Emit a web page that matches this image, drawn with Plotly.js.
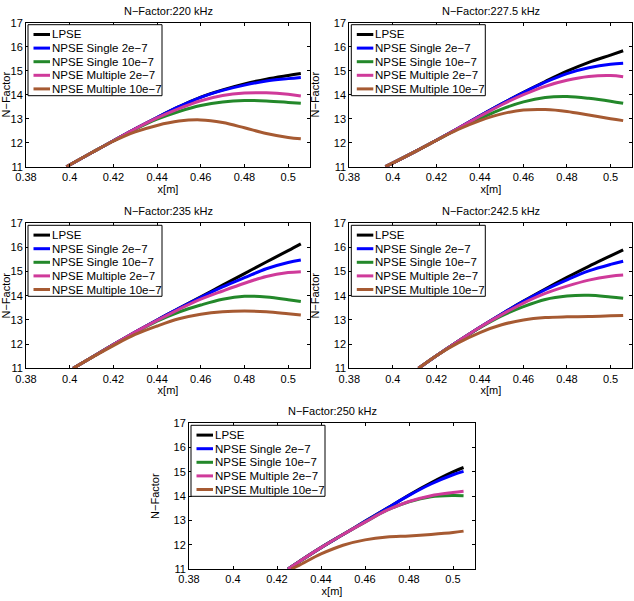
<!DOCTYPE html>
<html><head><meta charset="utf-8">
<script src="https://cdn.plot.ly/plotly-3.0.1.min.js"></script>
<style>html,body{margin:0;padding:0;background:#fff;} #chart{width:634px;height:601px;}</style>
</head><body><div id="chart"></div>
<script>
// ---------- data ----------
const frequencies = ['220', '227.5', '235', '242.5', '250'];
const seriesNames = ['LPSE', 'NPSE Single 2e\u22127', 'NPSE Single 10e\u22127', 'NPSE Multiple 2e\u22127', 'NPSE Multiple 10e\u22127'];
const xTickVals = [0.38, 0.4, 0.42, 0.44, 0.46, 0.48, 0.5];
const xTickLabels = ['0.38', '0.4', '0.42', '0.44', '0.46', '0.48', '0.5'];
const yTickVals = [11, 12, 13, 14, 15, 16, 17];

// 220 kHz
const x220     = [0.3985, 0.41, 0.42, 0.43, 0.44, 0.45, 0.46, 0.47, 0.48, 0.49, 0.50, 0.5058];
const lpse220  = [11.0, 11.58, 12.08, 12.58, 13.05, 13.50, 13.90, 14.20, 14.45, 14.65, 14.80, 14.88];
const s2_220   = [11.0, 11.58, 12.08, 12.58, 13.05, 13.50, 13.89, 14.18, 14.40, 14.57, 14.67, 14.72];
const s10_220  = [11.0, 11.58, 12.08, 12.56, 12.98, 13.30, 13.55, 13.70, 13.76, 13.74, 13.68, 13.64];
const m2_220   = [11.0, 11.58, 12.08, 12.58, 13.03, 13.42, 13.75, 13.97, 14.07, 14.08, 14.02, 13.95];
const m10_220  = [11.0, 11.58, 12.06, 12.45, 12.72, 12.90, 12.95, 12.84, 12.62, 12.38, 12.22, 12.16];

// 227.5 kHz
const x227     = [0.3966, 0.41, 0.42, 0.43, 0.44, 0.45, 0.46, 0.47, 0.48, 0.49, 0.50, 0.5058];
const lpse227  = [11.0, 11.62, 12.10, 12.60, 13.12, 13.62, 14.10, 14.55, 14.98, 15.35, 15.65, 15.83];
const s2_227   = [11.0, 11.62, 12.10, 12.60, 13.12, 13.62, 14.09, 14.52, 14.88, 15.12, 15.27, 15.31];
const s10_227  = [11.0, 11.62, 12.10, 12.58, 13.00, 13.40, 13.70, 13.88, 13.92, 13.85, 13.73, 13.64];
const m2_227   = [11.0, 11.62, 12.10, 12.60, 13.10, 13.58, 14.00, 14.35, 14.60, 14.76, 14.80, 14.75];
const m10_227  = [11.0, 11.62, 12.10, 12.55, 12.92, 13.20, 13.36, 13.38, 13.30, 13.15, 13.00, 12.92];

// 235 kHz
const x235     = [0.4016, 0.41, 0.42, 0.43, 0.44, 0.45, 0.46, 0.47, 0.48, 0.49, 0.50, 0.5058];
const lpse235  = [11.0, 11.45, 11.98, 12.50, 13.00, 13.48, 13.96, 14.44, 14.92, 15.40, 15.87, 16.15];
const s2_235   = [11.0, 11.45, 11.98, 12.50, 13.00, 13.48, 13.94, 14.37, 14.75, 15.12, 15.38, 15.48];
const s10_235  = [11.0, 11.45, 11.98, 12.48, 12.95, 13.33, 13.62, 13.86, 13.98, 13.95, 13.84, 13.76];
const m2_235   = [11.0, 11.45, 11.98, 12.50, 12.98, 13.44, 13.86, 14.20, 14.52, 14.80, 14.96, 15.00];
const m10_235  = [11.0, 11.44, 11.94, 12.40, 12.75, 13.05, 13.24, 13.34, 13.37, 13.34, 13.26, 13.21];

// 242.5 kHz
const x242     = [0.4118, 0.42, 0.43, 0.44, 0.45, 0.46, 0.47, 0.48, 0.49, 0.50, 0.5058];
const lpse242  = [11.0, 11.52, 12.12, 12.70, 13.25, 13.78, 14.28, 14.76, 15.22, 15.65, 15.90];
const s2_242   = [11.0, 11.52, 12.12, 12.70, 13.25, 13.77, 14.25, 14.66, 15.03, 15.30, 15.43];
const s10_242  = [11.0, 11.52, 12.12, 12.68, 13.17, 13.55, 13.85, 13.99, 14.02, 13.95, 13.90];
const m2_242   = [11.0, 11.52, 12.12, 12.70, 13.22, 13.70, 14.10, 14.40, 14.65, 14.81, 14.86];
const m10_242  = [11.0, 11.52, 12.05, 12.48, 12.80, 13.00, 13.10, 13.13, 13.14, 13.17, 13.19];

// 250 kHz
const x250     = [0.425, 0.43, 0.44, 0.45, 0.46, 0.47, 0.48, 0.49, 0.50, 0.5048];
const lpse250  = [11.0, 11.30, 11.88, 12.42, 12.96, 13.50, 14.05, 14.55, 15.00, 15.18];
const s2_250   = [11.0, 11.30, 11.88, 12.42, 12.96, 13.50, 14.03, 14.50, 14.88, 15.02];
const s10_250  = [11.0, 11.30, 11.88, 12.42, 12.93, 13.42, 13.77, 13.98, 14.03, 14.02];
const m2_250   = [11.0, 11.30, 11.88, 12.42, 12.93, 13.42, 13.78, 14.02, 14.15, 14.20];
const x250m10  = [0.4265, 0.43, 0.44, 0.45, 0.46, 0.47, 0.48, 0.49, 0.50, 0.5048];
const m10_250  = [11.0, 11.15, 11.62, 11.98, 12.20, 12.32, 12.36, 12.42, 12.50, 12.56];

// ---------- styling ----------
const lineColors = ['#000000', '#0000ff', '#23882a', '#cf3a9a', '#a65a32'];
const FONT = 'Liberation Sans, Arial, Helvetica, sans-serif';
const W = 634, H = 601;

const panels = [
  {xs: [x220, x220, x220, x220, x220], ys: [lpse220, s2_220, s10_220, m2_220, m10_220]},
  {xs: [x227, x227, x227, x227, x227], ys: [lpse227, s2_227, s10_227, m2_227, m10_227]},
  {xs: [x235, x235, x235, x235, x235], ys: [lpse235, s2_235, s10_235, m2_235, m10_235]},
  {xs: [x242, x242, x242, x242, x242], ys: [lpse242, s2_242, s10_242, m2_242, m10_242]},
  {xs: [x250, x250, x250, x250, x250m10], ys: [lpse250, s2_250, s10_250, m2_250, m10_250]}
];

// subplot boxes in page pixels
const boxes = [
  {l: 26, r: 310, t: 22.7, b: 166.7},
  {l: 349.3, r: 632.3, t: 22.7, b: 166.7},
  {l: 26, r: 310, t: 223.3, b: 368.3},
  {l: 349.3, r: 632.3, t: 223.3, b: 368.3},
  {l: 189, r: 475, t: 423.3, b: 569}
];

const px = v => v / W;
const py = v => 1 - v / H;

const traces = [];
const layout = {
  width: W, height: H,
  margin: {l: 0, r: 0, t: 0, b: 0},
  paper_bgcolor: '#ffffff', plot_bgcolor: '#ffffff',
  showlegend: false,
  font: {family: FONT, size: 11, color: '#000'},
  annotations: [], shapes: []
};

panels.forEach((p, i) => {
  const sfx = i === 0 ? '' : String(i + 1);
  const bx = boxes[i];
  for (let k = 0; k < 5; k++) {
    traces.push({
      type: 'scatter', mode: 'lines',
      x: p.xs[k], y: p.ys[k],
      name: seriesNames[k],
      xaxis: 'x' + sfx, yaxis: 'y' + sfx,
      line: {color: lineColors[k], width: 3, shape: 'spline', smoothing: 1},
      hoverinfo: 'skip'
    });
  }
  const common = {
    showline: true, linecolor: '#000', linewidth: 1, mirror: 'ticks',
    ticks: 'inside', ticklen: 3, tickcolor: '#000', tickwidth: 1,
    showgrid: false, zeroline: false,
    tickfont: {family: FONT, size: 11, color: '#000'}
  };
  layout['xaxis' + sfx] = Object.assign({}, common, {
    domain: [px(bx.l), px(bx.r)], anchor: 'y' + sfx,
    range: [0.38, 0.51], tickmode: 'array', tickvals: xTickVals, ticktext: xTickLabels,
    title: {text: 'x[m]', font: {family: FONT, size: 11, color: '#000'}, standoff: 2}
  });
  layout['yaxis' + sfx] = Object.assign({}, common, {
    domain: [py(bx.b), py(bx.t)], anchor: 'x' + sfx,
    range: [11, 17], tickmode: 'array', tickvals: yTickVals,
    title: {text: 'N\u2212Factor', font: {family: FONT, size: 11, color: '#000'}, standoff: 11}
  });
  // subplot title
  layout.annotations.push({
    text: 'N\u2212Factor:' + frequencies[i] + ' kHz',
    xref: 'paper', yref: 'paper', x: px((bx.l + bx.r) / 2), y: py(bx.t - 12),
    xanchor: 'center', yanchor: 'middle', showarrow: false,
    font: {family: FONT, size: 11, color: '#000'}
  });
  // legend box (MATLAB style)
  const lx = bx.l + 2, ly = bx.t + 2, lw = 134, lh = 71;
  layout.shapes.push({
    type: 'rect', xref: 'paper', yref: 'paper', layer: 'above',
    x0: px(lx), x1: px(lx + lw), y0: py(ly), y1: py(ly + lh),
    line: {color: '#000', width: 1}, fillcolor: '#ffffff'
  });
  for (let k = 0; k < 5; k++) {
    const cy = ly + 9.8 + 13.6 * k;
    layout.shapes.push({
      type: 'line', xref: 'paper', yref: 'paper', layer: 'above',
      x0: px(lx + 5.5), x1: px(lx + 22), y0: py(cy), y1: py(cy),
      line: {color: lineColors[k], width: 3}
    });
    layout.annotations.push({
      text: seriesNames[k], xref: 'paper', yref: 'paper',
      x: px(lx + 21.5), y: py(cy), xanchor: 'left', yanchor: 'middle',
      showarrow: false, font: {family: FONT, size: 11.5, color: '#000'}
    });
  }
});

Plotly.newPlot('chart', traces, layout, {displayModeBar: false, staticPlot: true});
</script>
</body></html>
